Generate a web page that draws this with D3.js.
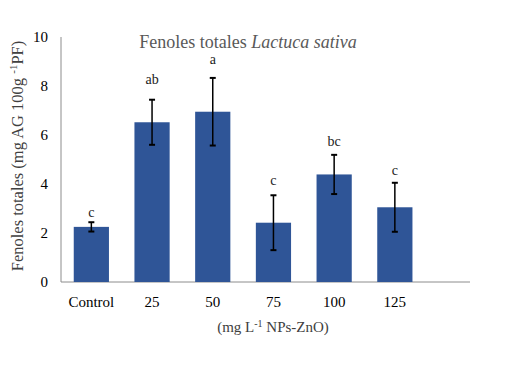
<!DOCTYPE html>
<html>
<head>
<meta charset="utf-8">
<script src="https://cdn.jsdelivr.net/npm/d3@7"></script>
<style>
  body { margin: 0; background: #fff; }
</style>
</head>
<body>
<div id="chart"></div>
<script>
const categories = ["Control", "25", "50", "75", "100", "125"];
const values = [2.25, 6.52, 6.95, 2.42, 4.39, 3.05];
const errors = [0.19, 0.92, 1.38, 1.12, 0.8, 1.0];
const letters = ["c", "ab", "a", "c", "bc", "c"];
// height (in data units) where each significance letter sits
const letterAt = [2.78, 8.24, 9.06, 4.09, 5.69, 4.5];
const yTicks = [0, 2, 4, 6, 8, 10];

const W = 516, H = 378;
const margin = { top: 37, left: 61, bottom: 96 };
const bandW = 60.7;
const FONT = "Liberation Serif";

const svg = d3.select("#chart").append("svg")
  .attr("width", W).attr("height", H);

const x = d3.scaleBand()
  .domain(categories)
  .range([margin.left, margin.left + bandW * categories.length])
  .paddingInner(0.42)
  .paddingOuter(0.21);

const y = d3.scaleLinear()
  .domain([0, 10])
  .range([H - margin.bottom, margin.top]);

// axes lines
svg.append("line")
  .attr("x1", margin.left).attr("x2", margin.left)
  .attr("y1", y(10)).attr("y2", y(0))
  .attr("stroke", "#8c8c8c").attr("stroke-width", 1);
svg.append("line")
  .attr("x1", margin.left).attr("x2", 470)
  .attr("y1", y(0)).attr("y2", y(0))
  .attr("stroke", "#8c8c8c").attr("stroke-width", 1);

// y tick labels
svg.selectAll(".ytick")
  .data(yTicks)
  .enter().append("text")
  .attr("class", "ytick")
  .attr("x", 48)
  .attr("y", d => y(d) + 5)
  .attr("text-anchor", "end")
  .attr("font-family", FONT)
  .attr("font-size", 15)
  .attr("fill", "#000")
  .text(d => d);

// bars
svg.selectAll(".bar")
  .data(values)
  .enter().append("rect")
  .attr("class", "bar")
  .attr("x", (d, i) => x(categories[i]))
  .attr("width", x.bandwidth())
  .attr("y", d => y(d))
  .attr("height", d => y(0) - y(d))
  .attr("fill", "#2F5597");

// error bars
const eb = svg.selectAll(".err")
  .data(values)
  .enter().append("g")
  .attr("class", "err")
  .attr("transform", (d, i) => `translate(${x(categories[i]) + x.bandwidth() / 2},0)`);
eb.append("line")
  .attr("y1", (d, i) => y(d + errors[i]))
  .attr("y2", (d, i) => y(d - errors[i]))
  .attr("stroke", "#000").attr("stroke-width", 1.5);
eb.append("line")
  .attr("x1", -3).attr("x2", 3)
  .attr("y1", (d, i) => y(d + errors[i]))
  .attr("y2", (d, i) => y(d + errors[i]))
  .attr("stroke", "#000").attr("stroke-width", 2);
eb.append("line")
  .attr("x1", -3).attr("x2", 3)
  .attr("y1", (d, i) => y(d - errors[i]))
  .attr("y2", (d, i) => y(d - errors[i]))
  .attr("stroke", "#000").attr("stroke-width", 2);
eb.append("text")
  .attr("y", (d, i) => y(letterAt[i]) + 3.5)
  .attr("text-anchor", "middle")
  .attr("font-family", FONT)
  .attr("font-size", 14)
  .attr("fill", "#222")
  .text((d, i) => letters[i]);

// category labels
svg.selectAll(".xlab")
  .data(categories)
  .enter().append("text")
  .attr("class", "xlab")
  .attr("x", d => x(d) + x.bandwidth() / 2)
  .attr("y", 307)
  .attr("text-anchor", "middle")
  .attr("font-family", FONT)
  .attr("font-size", 15)
  .attr("fill", "#000")
  .text(d => d);

// title
const title = svg.append("text")
  .attr("x", 248).attr("y", 48)
  .attr("text-anchor", "middle")
  .attr("font-family", FONT)
  .attr("font-size", 18)
  .attr("fill", "#595959");
title.append("tspan").text("Fenoles totales ");
title.append("tspan").attr("font-style", "italic").text("Lactuca sativa");

// x axis title
const xt = svg.append("text")
  .attr("x", 273).attr("y", 332)
  .attr("text-anchor", "middle")
  .attr("font-family", FONT)
  .attr("font-size", 15)
  .attr("fill", "#404040");
xt.append("tspan").text("(mg L");
xt.append("tspan").attr("font-size", 10).attr("dy", -5).text("-1");
xt.append("tspan").attr("dy", 5).text(" NPs-ZnO)");

// y axis title
const yt = svg.append("text")
  .attr("transform", "translate(23,156) rotate(-90)")
  .attr("text-anchor", "middle")
  .attr("font-family", FONT)
  .attr("font-size", 16.5)
  .attr("fill", "#404040");
yt.append("tspan").text("Fenoles totales (mg AG 100g   ");
yt.append("tspan").attr("font-size", 11).attr("dy", -6).text("-1");
yt.append("tspan").attr("dy", 6).text("PF)");
</script>
</body>
</html>
